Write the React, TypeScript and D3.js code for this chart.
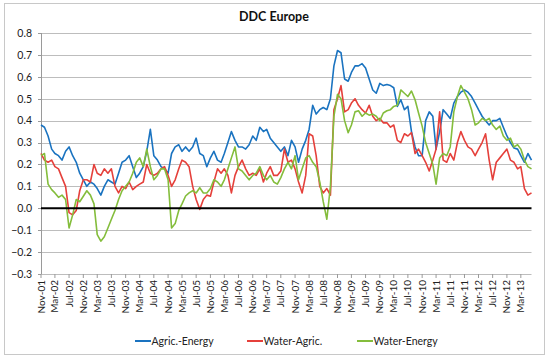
import React from "react";
import * as d3 from "d3";

// monthly values, Nov-01 .. Jun-13
const startMonth = new Date(2001, 10, 1);
const seriesNames = ["Agric.-Energy", "Water-Agric.", "Water-Energy"];
const seriesColors = ["#1a73c0", "#e5403b", "#84bd3c"];

const agricEnergy = [
  0.38, 0.37, 0.33, 0.27, 0.25, 0.24, 0.22, 0.26, 0.28, 0.24,
  0.21, 0.16, 0.13, 0.1, 0.12, 0.11, 0.09, 0.06, 0.1, 0.13,
  0.12, 0.11, 0.16, 0.21, 0.22, 0.24, 0.19, 0.14, 0.16, 0.19,
  0.26, 0.36, 0.24, 0.22, 0.19, 0.18, 0.16, 0.25, 0.28, 0.29,
  0.26, 0.28, 0.26, 0.28, 0.32, 0.25, 0.24, 0.19, 0.23, 0.26,
  0.22, 0.21, 0.25, 0.3, 0.35, 0.31, 0.28, 0.28, 0.27, 0.29,
  0.33, 0.31, 0.37, 0.35, 0.36, 0.32, 0.3, 0.28, 0.26, 0.28,
  0.24, 0.31, 0.28, 0.21, 0.27, 0.31, 0.36, 0.47, 0.43, 0.45,
  0.46, 0.45, 0.5, 0.65, 0.72, 0.71, 0.59, 0.58, 0.62, 0.65,
  0.65, 0.66, 0.64, 0.59, 0.54, 0.525, 0.57, 0.56, 0.565, 0.56,
  0.55, 0.465, 0.495, 0.45, 0.465, 0.35, 0.28, 0.24, 0.24, 0.4,
  0.44, 0.42, 0.27, 0.35, 0.45, 0.43, 0.41, 0.48, 0.51, 0.53,
  0.54, 0.53, 0.51, 0.48, 0.45, 0.42, 0.4, 0.38, 0.4, 0.4,
  0.41, 0.37, 0.33, 0.3, 0.275, 0.27, 0.24, 0.21, 0.25, 0.22,
];

const waterAgric = [
  0.25, 0.22, 0.21, 0.22, 0.19, 0.18, 0.14, 0.1, -0.02, -0.03,
  -0.01, 0.08, 0.13, 0.13, 0.12, 0.2, 0.16, 0.15, 0.18, 0.16,
  0.18, 0.1, 0.07, 0.1, 0.09, 0.12, 0.085, 0.1, 0.11, 0.12,
  0.2, 0.16, 0.15, 0.16, 0.18, 0.19, 0.15, 0.1, 0.13, 0.18,
  0.22, 0.21, 0.19, 0.1, 0.04, -0.005, 0.04, 0.06, 0.055, 0.12,
  0.18, 0.16, 0.18, 0.15, 0.07, 0.15, 0.19, 0.22, 0.18, 0.15,
  0.16, 0.15, 0.18, 0.12, 0.16, 0.19, 0.15, 0.15, 0.17, 0.27,
  0.21, 0.22, 0.18, 0.12, 0.07, 0.15, 0.34, 0.33, 0.24, 0.1,
  0.07, 0.09, 0.06, 0.45, 0.5, 0.56, 0.44, 0.45, 0.48, 0.5,
  0.47, 0.45, 0.435, 0.47, 0.42, 0.4, 0.41, 0.39, 0.39, 0.37,
  0.38, 0.31, 0.3, 0.34, 0.33, 0.345, 0.25, 0.27, 0.24, 0.21,
  0.17, 0.22, 0.27, 0.44, 0.22, 0.21, 0.25, 0.22, 0.3, 0.35,
  0.31, 0.28, 0.27, 0.24, 0.27, 0.3, 0.34, 0.22, 0.13, 0.21,
  0.23, 0.25, 0.27, 0.22, 0.21, 0.18, 0.19, 0.09, 0.06, 0.07,
];

const waterEnergy = [
  0.24, 0.25, 0.11, 0.085, 0.07, 0.05, 0.06, 0.04, -0.09, -0.03,
  0.04, 0.03, 0.055, 0.08, 0.06, 0.02, -0.12, -0.15, -0.13, -0.09,
  -0.05, -0.01, 0.04, 0.08, 0.1, 0.12, 0.16, 0.21, 0.23, 0.19,
  0.27, 0.19, 0.13, 0.15, 0.18, 0.18, 0.13, -0.09, -0.07, -0.01,
  0.02, 0.056, 0.07, 0.08, 0.07, 0.094, 0.07, 0.07, 0.09, 0.13,
  0.12, 0.1, 0.13, 0.18, 0.23, 0.28, 0.18, 0.17, 0.15, 0.13,
  0.15, 0.16, 0.19, 0.15, 0.13, 0.15, 0.12, 0.11, 0.14, 0.18,
  0.21, 0.18, 0.24, 0.13, 0.18, 0.23, 0.24, 0.21, 0.19, 0.12,
  0.03, -0.05, 0.1, 0.42, 0.52, 0.5, 0.4, 0.345, 0.38, 0.44,
  0.445, 0.42, 0.435, 0.425, 0.43, 0.42, 0.4, 0.435, 0.445, 0.45,
  0.465, 0.47, 0.54, 0.525, 0.51, 0.535, 0.495, 0.435, 0.375, 0.3,
  0.25, 0.2, 0.11, 0.23, 0.25, 0.24, 0.28, 0.44, 0.51, 0.56,
  0.53, 0.5, 0.45, 0.38, 0.39, 0.41, 0.4, 0.41, 0.38, 0.36,
  0.375, 0.33, 0.31, 0.32, 0.28, 0.29, 0.27, 0.22, 0.19, 0.18,
];

const yTicks = [-0.3, -0.2, -0.1, 0, 0.1, 0.2, 0.3, 0.4, 0.5, 0.6, 0.7, 0.8];

const W = 550;
const H = 361;
const margin = { left: 41, right: 18.5, top: 33, bottom: 87 };
const font = "Lato, 'Open Sans', sans-serif";

export default function App() {
  const allSeries = [agricEnergy, waterAgric, waterEnergy];
  const n = agricEnergy.length;
  const dates = d3.range(n).map((i) => d3.timeMonth.offset(startMonth, i));

  const x = d3
    .scaleTime()
    .domain([startMonth, dates[n - 1]])
    .range([margin.left, W - margin.right]);
  const y = d3
    .scaleLinear()
    .domain([-0.3, 0.8])
    .range([H - margin.bottom, margin.top]);

  // a label every 4 months, starting at Nov-01
  const xTicks = d3.range(0, n - 2, 4).map((i) => dates[i]);
  const fmtX = d3.timeFormat("%b-%y");
  const fmtY = d3.format(".1f");

  const line = d3
    .line<number>()
    .x((_, i) => x(dates[i]))
    .y((d) => y(d));

  const x0 = margin.left;
  const x1 = W - margin.right;
  const yBottom = y(-0.3);

  return (
    <svg
      width={W}
      height={H}
      style={{ position: "absolute", left: 0, top: 0, background: "#fff" }}
      fontFamily={font}
    >
      <rect x={4.5} y={3.5} width={540} height={351} fill="#fff" stroke="#c8c8c8" />
      <text x={274} y={21} textAnchor="middle" fontSize={12.5} fontWeight="bold" fill="#111">
        DDC Europe
      </text>

      {/* gridlines + y labels */}
      {yTicks.map((t) => (
        <g key={t}>
          {t !== 0 && (
            <line x1={x0} x2={x1} y1={Math.round(y(t)) + 0.5} y2={Math.round(y(t)) + 0.5} stroke="#bdbdbd" />
          )}
          <line x1={x0 - 3} x2={x0} y1={Math.round(y(t)) + 0.5} y2={Math.round(y(t)) + 0.5} stroke="#9a9a9a" />
          <text x={32} y={y(t) + 3.8} textAnchor="end" fontSize={10.5} fill="#222">
            {fmtY(t)}
          </text>
        </g>
      ))}
      <line x1={x0 + 0.5} x2={x0 + 0.5} y1={y(0.8)} y2={yBottom} stroke="#9a9a9a" />

      {/* x axis ticks and labels */}
      {xTicks.map((d, i) => (
        <g key={i}>
          <line x1={x(d)} x2={x(d)} y1={yBottom} y2={yBottom + 4} stroke="#9a9a9a" />
          <text
            transform={`translate(${x(d) + 3.5},${yBottom + 6}) rotate(-90)`}
            textAnchor="end"
            fontSize={10}
            fill="#222"
          >
            {fmtX(d)}
          </text>
        </g>
      ))}

      {/* series */}
      {allSeries.map((s, i) => (
        <path key={i} d={line(s) ?? ""} fill="none" stroke={seriesColors[i]} strokeWidth={1.6} strokeLinejoin="round" />
      ))}

      {/* zero line */}
      <line x1={x0} x2={x1} y1={y(0)} y2={y(0)} stroke="#000" strokeWidth={2} />

      {/* legend */}
      {seriesNames.map((name, i) => {
        const lx = [135, 247, 357][i];
        return (
          <g key={name}>
            <line x1={lx} x2={lx + 16} y1={341} y2={341} stroke={seriesColors[i]} strokeWidth={2} />
            <text x={lx + 16.5} y={344.5} fontSize={10.5} fill="#222">
              {name}
            </text>
          </g>
        );
      })}
    </svg>
  );
}
